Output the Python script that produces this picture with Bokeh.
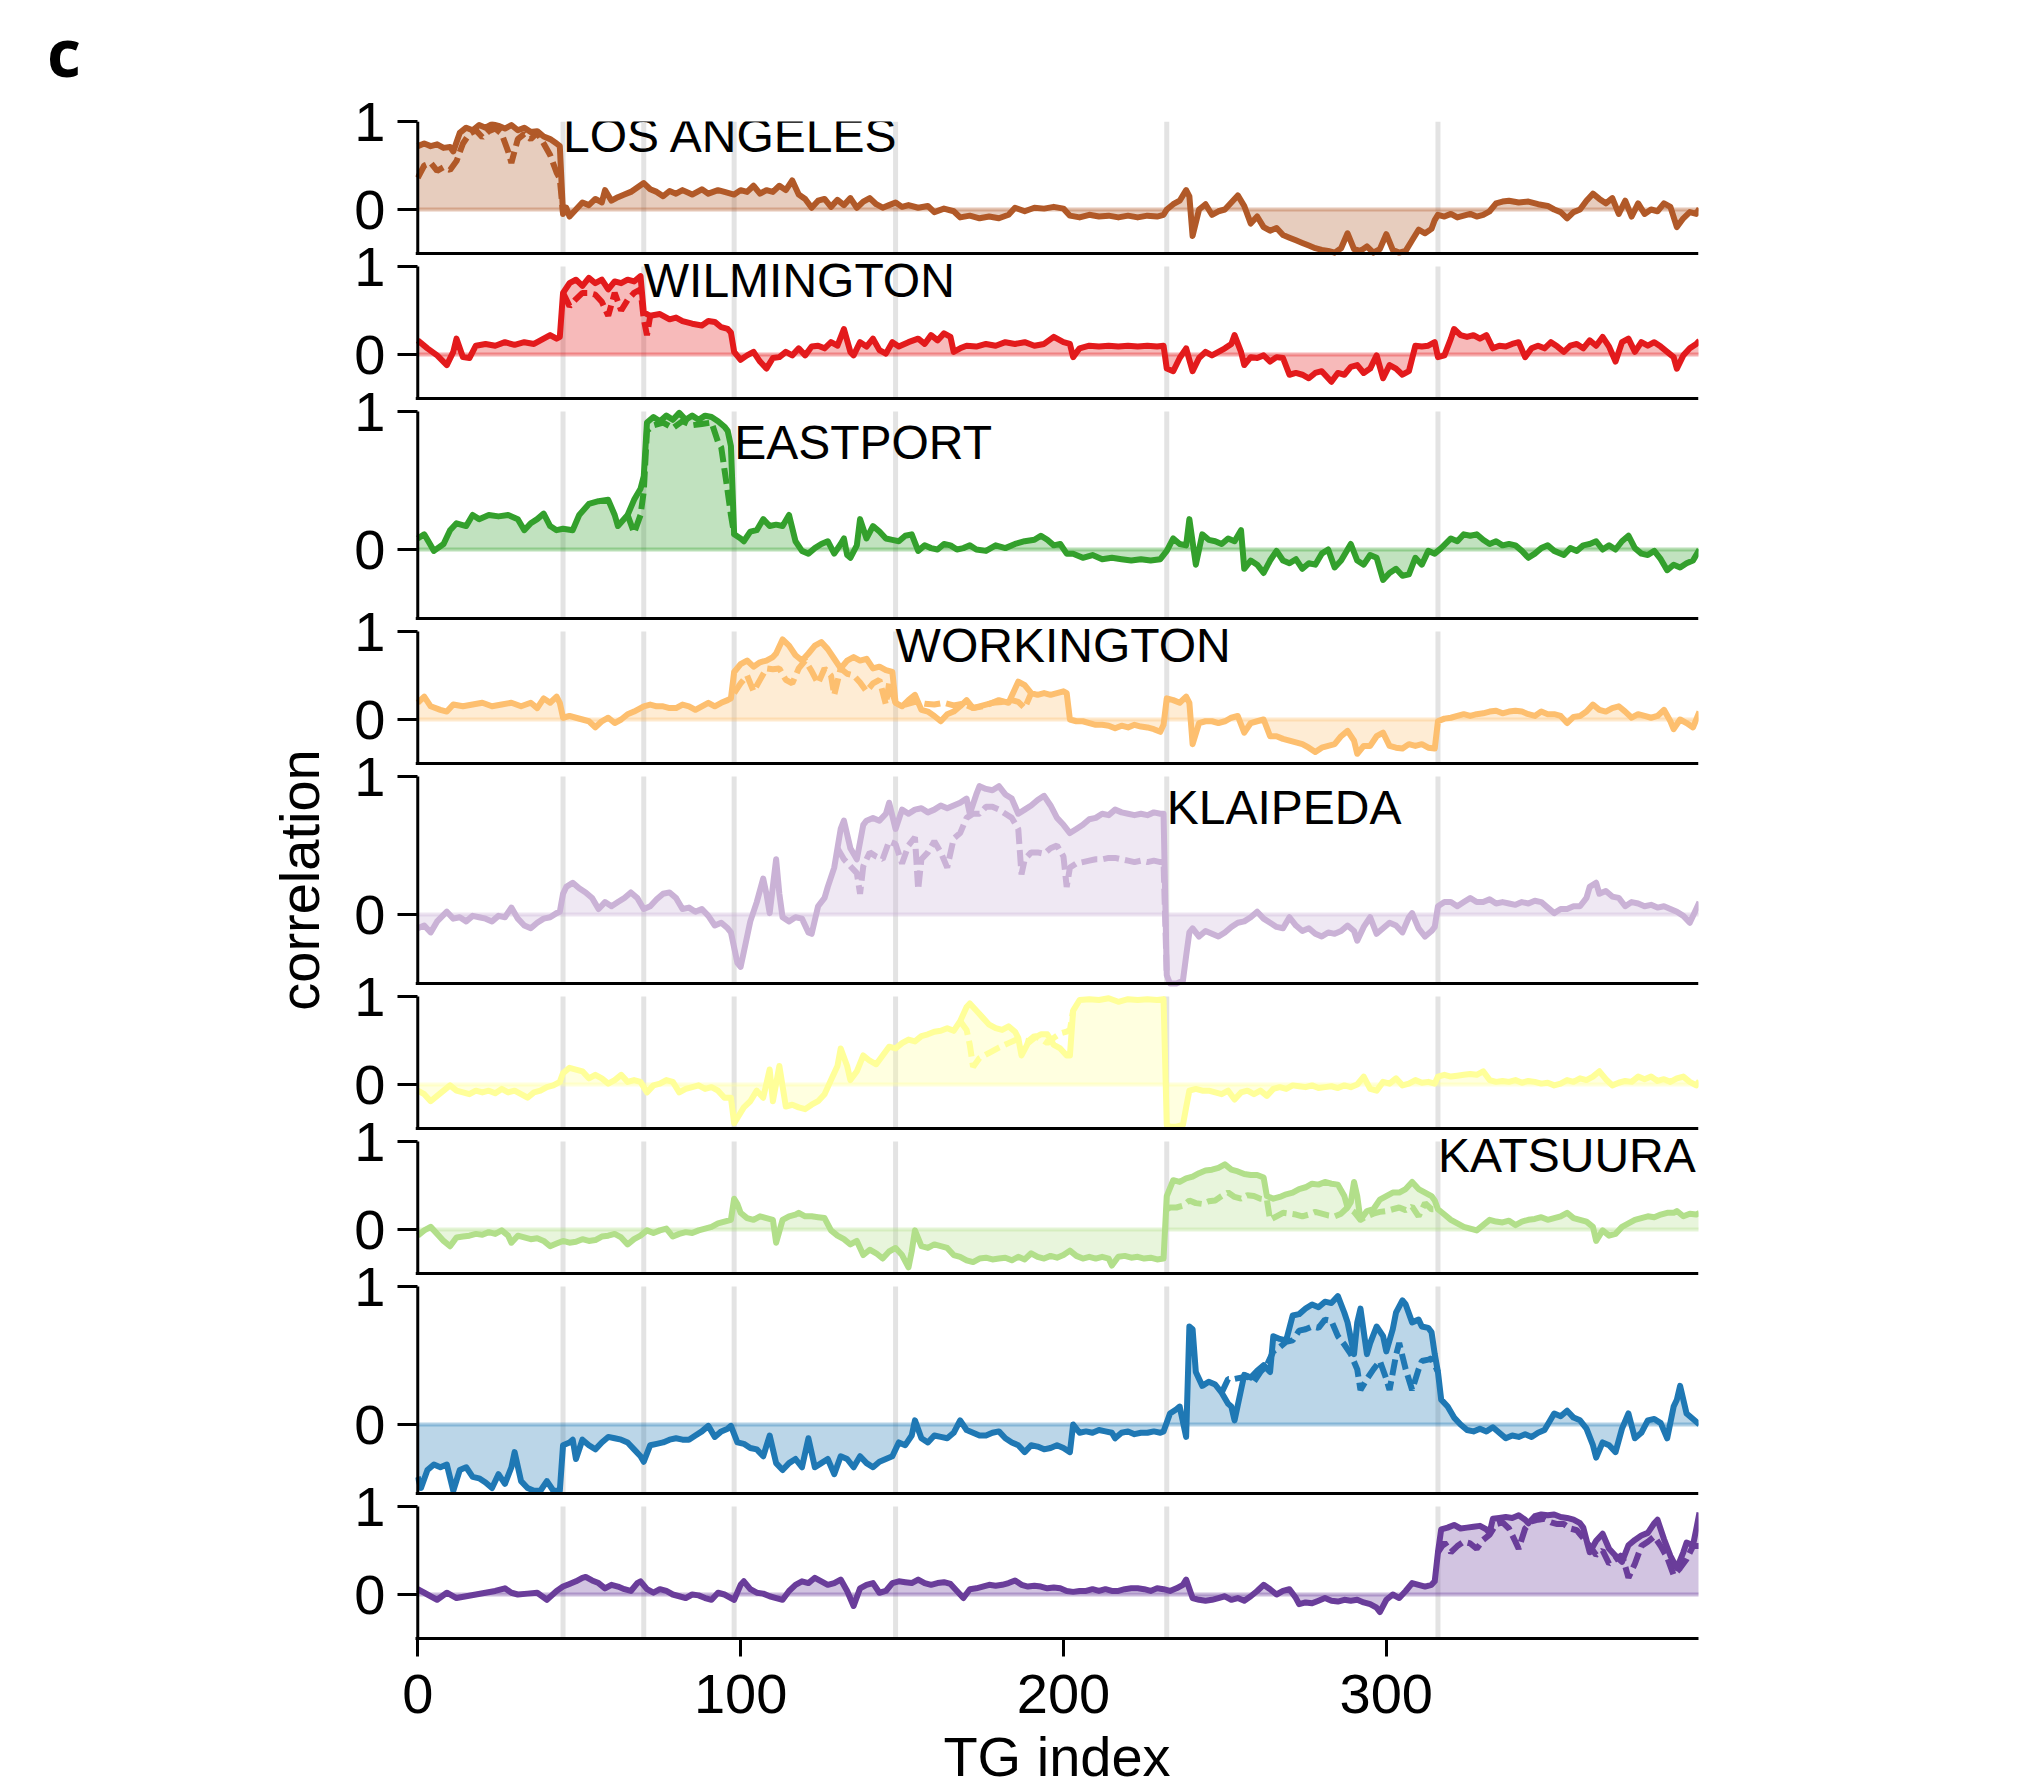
from bokeh.plotting import figure
from bokeh.layouts import column
from bokeh.models import Range1d, FixedTicker, Div
from bokeh.core.properties import value
from bokeh.embed import file_html
from bokeh.resources import INLINE

FONT = "Liberation Sans"

# ---------------- data ----------------
NAMES = ["LOS ANGELES", "WILMINGTON", "EASTPORT", "WORKINGTON", "KLAIPEDA", "", "KATSUURA", "", ""]
COLORS = ["#b15928", "#e31a1c", "#33a02c", "#fdbf6f", "#cab2d6", "#ffff99", "#b2df8a", "#1f78b4", "#6a3d9a"]
BOUNDARIES = [45, 70, 98, 148, 232, 316]
TITLE_REGION = [0, 1, 2, 3, 4, None, 5, None, None]
X_TICKS = [0, 100, 200, 300]
PANEL_LETTER = "c"

LA_SOLID = [(0,.72),(2,.75),(4,.72),(6,.74),(8,.70),(10,.71),(11,.66),(13,.87),(15,.93),(17,.90),
 (19,.96),(21,.93),(23,.97),(25,.95),(27,.92),(29,.96),(31,.90),(33,.93),(35,.88),(37,.89),
 (39,.83),(41,.80),(43,.75),(44,.72),(45,-.05),(46,.02),(47,-.08),(49,0),(51,.08),(53,.05),
 (55,.12),(57,.08),(58,.22),(60,.10),(62,.14),(64,.17),(66,.20),(68,.25),(70,.30),(72,.23),
 (74,.20),(76,.15),(78,.21),(80,.18),(82,.22),(85,.17),(88,.23),(90,.18),(93,.22),(95,.20),
 (98,.17),(100,.22),(102,.20),(104,.27),(106,.18),(108,.22),(110,.20),(112,.27),(114,.22),(116,.33),
 (118,.17),(120,.12),(122,.02),(124,.10),(126,.12),(128,.03),(130,.11),(132,.05),(134,.13),(136,.02),
 (138,.09),(140,.13),(142,.06),(144,.02),(146,.05),(148,.08),(150,.03),(152,.05),(155,.02),(158,.04),
 (160,-.03),(163,.01),(166,-.02),(168,-.09),(171,-.07),(174,-.10),(177,-.08),(180,-.10),(183,-.06),(185,.02),
 (188,-.02),(191,.02),(194,.01),(197,.03),(200,.01),(202,-.07),(205,-.09),(208,-.06),(211,-.08),(214,-.07),
 (217,-.09),(220,-.07),(223,-.09),(226,-.07),(229,-.08),(231,-.06),(232,0),(234,.06),(236,.10),(238,.22),
 (239,.15),(240,-.30),(242,0),(244,.06),(246,-.06),(248,-.02),(250,0),(252,.08),(254,.16),(256,.04),
 (258,-.16),(260,-.08),(262,-.20),(264,-.24),(266,-.21),(268,-.29),(270,-.32),(272,-.35),(274,-.38),(276,-.41),
 (278,-.44),(280,-.46),(282,-.47),(284,-.49),(286,-.44),(288,-.27),(290,-.45),(292,-.47),(294,-.42),(296,-.49),
 (298,-.45),(300,-.28),(302,-.46),(304,-.49),(306,-.47),(308,-.35),(310,-.23),(312,-.27),(314,-.22),(315,-.12),
 (316,-.06),(318,-.08),(320,-.05),(322,-.09),(324,-.07),(326,-.05),(328,-.08),(330,-.06),(332,-.02),(334,.07),
 (336,.09),(338,.10),(341,.08),(344,.09),(347,.06),(350,.04),(352,0),(354,-.03),(356,-.10),(358,-.03),
 (360,0),(362,.10),(364,.18),(366,.12),(368,.07),(370,.13),(372,-.05),(374,.10),(376,-.08),(378,.07),
 (380,-.05),(382,0),(384,-.02),(386,.07),(388,.03),(390,-.20),(392,-.10),(394,-.03),(396,-.05),(397,.01)]
LA_DASH = [(0,.36),(2,.50),(4,.53),(6,.44),(8,.48),(10,.45),(12,.55),(14,.75),(16,.86),(18,.90),(20,.82),
 (22,.89),(24,.92),(26,.86),(28,.66),(29,.53),(31,.80),(33,.86),(35,.80),(37,.87),(39,.75),(41,.62),
 (43,.42),(44,.35),(45,-.05)]

WI_SOLID = [(0,.16),(3,.07),(6,-.01),(9,-.12),(11,.03),(12,.18),(14,-.03),(16,-.04),(18,.10),(21,.12),
 (24,.10),(27,.14),(30,.11),(33,.14),(36,.12),(39,.18),(41,.22),(43,.18),(44,.20),(45,.70),
 (47,.81),(49,.85),(51,.78),(53,.87),(55,.81),(57,.85),(59,.74),(61,.83),(63,.81),(65,.85),
 (67,.83),(69,.89),(70,.48),(72,.44),(75,.46),(78,.40),(80,.42),(82,.38),(85,.35),(88,.33),
 (90,.38),(92,.37),(94,.31),(96,.29),(97,.25),(98,.03),(100,-.06),(102,-.01),(104,.03),(106,-.08),
 (108,-.16),(110,-.04),(112,-.03),(114,.03),(116,-.01),(118,.07),(120,-.01),(122,.09),(124,.10),(126,.07),
 (128,.14),(130,.10),(132,.29),(134,.03),(135,-.01),(137,.14),(139,.09),(141,.18),(143,.05),(145,.01),
 (147,.14),(149,.09),(152,.14),(155,.18),(157,.12),(159,.22),(161,.16),(163,.24),(165,.20),(166,.03),
 (168,.07),(170,.10),(173,.09),(176,.12),(179,.10),(182,.14),(185,.12),(188,.14),(191,.10),(194,.12),
 (197,.20),(200,.14),(202,.12),(203,-.03),(205,.07),(208,.10),(211,.09),(214,.10),(217,.09),(220,.10),
 (223,.09),(226,.10),(229,.09),(231,.10),(232,-.16),(234,-.19),(236,-.04),(238,.07),(240,-.19),(242,-.04),
 (244,.03),(246,-.01),(248,.03),(250,.07),(252,.12),(253,.22),(255,.03),(256,-.12),(258,-.03),(260,-.04),
 (262,-.01),(264,-.08),(266,-.03),(268,-.04),(270,-.23),(272,-.21),(274,-.23),(276,-.27),(278,-.21),(280,-.19),
 (282,-.27),(283,-.31),(285,-.21),(287,-.23),(289,-.14),(291,-.12),(293,-.21),(295,-.16),(297,-.01),(299,-.27),
 (301,-.12),(303,-.16),(305,-.23),(307,-.19),(309,.10),(311,.09),(313,.10),(315,.14),(316,-.03),(318,-.01),
 (320,.18),(321,.29),(323,.22),(325,.20),(327,.22),(329,.18),(331,.22),(333,.07),(335,.10),(337,.09),
 (339,.12),(341,.14),(343,-.03),(345,.07),(347,.10),(349,.07),(351,.14),(353,.09),(355,.03),(357,.10),
 (359,.12),(361,.07),(363,.16),(365,.10),(367,.20),(369,.09),(371,-.08),(373,.14),(375,.18),(377,.03),
 (379,.14),(381,.10),(383,.14),(385,.09),(387,.03),(389,-.03),(390,-.16),(392,-.01),(394,.07),(396,.12),(397,.16)]
WI_DASH = [(45,.70),(47,.55),(49,.63),(51,.70),(53,.70),(55,.68),(57,.60),(59,.44),(61,.70),(63,.50),
 (65,.62),(67,.70),(69,.74),(70,.40),(71,.22),(72,.44)]

EA_SOLID = [(0,.08),(2,.11),(4,.03),(5,-.01),(8,.04),(10,.14),(12,.19),(15,.17),(17,.25),(19,.22),
 (22,.25),(25,.24),(28,.25),(31,.22),(33,.14),(35,.19),(37,.22),(39,.26),(41,.17),(43,.14),
 (45,.15),(48,.14),(50,.25),(53,.33),(56,.35),(59,.36),(61,.25),(62,.17),(65,.25),(67,.36),
 (69,.44),(70,.53),(71,.92),(73,.96),(75,.93),(77,.97),(79,.94),(81,.99),(83,.94),(85,.97),
 (87,.94),(89,.97),(91,.96),(93,.93),(95,.89),(96,.86),(97,.75),(98,.11),(100,.08),(101,.06),
 (103,.13),(105,.14),(107,.22),(109,.17),(111,.18),(113,.17),(115,.25),(117,.06),(119,-.01),(121,-.03),
 (123,.01),(125,.04),(127,.06),(129,-.03),(131,.04),(132,.08),(133,-.04),(134,-.06),(136,.03),(137,.22),
 (139,.08),(141,.17),(143,.13),(145,.08),(147,.07),(149,.06),(151,.10),(153,.11),(155,-.01),(157,.03),
 (159,.01),(161,0),(163,.04),(165,.03),(167,0),(169,.01),(171,.03),(173,0),(176,-.01),(179,.03),
 (182,.01),(185,.04),(188,.06),(191,.07),(193,.10),(195,.07),(197,.03),(199,.04),(201,-.03),(203,-.03),
 (206,-.06),(209,-.04),(212,-.07),(215,-.06),(218,-.07),(221,-.08),(224,-.07),(227,-.08),(230,-.07),(232,-.01),
 (234,.08),(236,.04),(238,.03),(239,.22),(241,-.11),(243,.11),(245,.07),(247,.06),(249,.04),(251,.08),
 (253,.06),(255,.14),(256,-.14),(258,-.08),(260,-.11),(262,-.17),(264,-.08),(266,-.01),(268,-.08),(270,-.10),
 (272,-.07),(274,-.14),(276,-.10),(278,-.11),(280,-.03),(282,0),(284,-.13),(286,-.08),(289,.04),(291,-.08),
 (293,-.11),(295,-.04),(297,-.06),(299,-.22),(301,-.17),(303,-.14),(305,-.19),(307,-.18),(309,-.06),(311,-.11),
 (313,-.01),(315,-.03),(317,.01),(320,.08),(322,.06),(324,.11),(326,.10),(328,.11),(330,.07),(332,.04),
 (334,.06),(336,.03),(338,.04),(340,.03),(342,-.01),(344,-.06),(346,-.03),(348,.01),(350,.03),(352,-.01),
 (355,-.04),(357,.01),(359,-.01),(361,.03),(363,.04),(365,.06),(367,0),(369,.03),(371,0),(373,.06),
 (375,.10),(377,.01),(379,-.03),(381,-.04),(383,-.01),(385,-.07),(387,-.15),(389,-.11),(391,-.13),(393,-.10),
 (395,-.08),(397,0)]
EA_DASH = [(65,.25),(67,.12),(69,.25),(70,.42),(71,.86),(73,.90),(76,.92),(79,.88),(82,.93),(85,.90),
 (88,.91),(91,.92),(93,.78),(94,.74),(95,.58),(96,.42),(97,.25),(98,.11)]

WO_SOLID = [(0,.19),(2,.26),(4,.15),(7,.11),(9,.09),(11,.17),(14,.15),(17,.17),(20,.19),(23,.15),
 (26,.17),(29,.19),(32,.15),(35,.19),(37,.13),(39,.24),(41,.19),(43,.26),(44,.19),(45,.02),
 (47,.04),(49,.02),(51,0),(53,-.02),(55,-.09),(57,-.02),(59,.02),(61,-.04),(63,0),(65,.06),
 (67,.09),(69,.13),(70,.15),(72,.17),(74,.15),(76,.15),(78,.13),(80,.13),(82,.17),(84,.15),
 (86,.11),(88,.15),(90,.19),(92,.15),(94,.19),(96,.22),(97,.24),(98,.54),(100,.63),(102,.67),
 (104,.60),(106,.65),(108,.67),(110,.71),(111,.75),(113,.91),(115,.84),(117,.73),(119,.67),(121,.75),
 (123,.84),(125,.88),(127,.80),(129,.69),(131,.58),(133,.67),(135,.71),(137,.67),(139,.69),(141,.58),
 (143,.60),(145,.56),(147,.54),(148,.19),(150,.15),(152,.22),(154,.28),(156,.11),(158,.09),(160,.04),
 (162,-.02),(164,.06),(166,.09),(168,.15),(170,.22),(172,.13),(174,.15),(176,.17),(178,.19),(180,.22),
 (183,.19),(186,.43),(188,.39),(190,.30),(192,.28),(194,.30),(196,.28),(198,.30),(200,.32),(201,.30),
 (202,0),(204,-.02),(206,-.02),(208,-.04),(210,-.06),(212,-.06),(214,-.07),(216,-.10),(218,-.07),(220,-.09),
 (222,-.06),(224,-.08),(226,-.09),(228,-.11),(230,-.14),(231,-.06),(232,.24),(234,.22),(236,.19),(238,.26),
 (239,.19),(240,-.28),(242,-.04),(244,-.02),(246,-.02),(248,-.04),(250,-.02),(252,.02),(254,.04),(256,-.15),
 (258,-.04),(260,-.02),(262,0),(264,-.19),(266,-.19),(268,-.22),(270,-.24),(272,-.26),(274,-.28),(276,-.32),
 (278,-.37),(280,-.32),(282,-.30),(284,-.28),(286,-.19),(288,-.13),(290,-.24),(291,-.39),(293,-.30),(295,-.30),
 (297,-.19),(299,-.15),(301,-.30),(303,-.32),(305,-.33),(307,-.28),(309,-.30),(311,-.28),(313,-.32),(315,-.33),
 (316,-.02),(318,.01),(320,.02),(322,.04),(324,.06),(326,.04),(328,.06),(330,.07),(332,.09),(334,.10),
 (336,.07),(338,.09),(340,.10),(342,.09),(344,.06),(346,.04),(348,.09),(350,.06),(352,.06),(354,.04),
 (356,-.04),(358,.03),(360,.04),(362,.09),(364,.17),(366,.11),(368,.09),(370,.13),(372,.15),(374,.09),
 (376,.02),(378,.06),(380,.04),(382,.02),(384,.04),(386,.11),(388,-.02),(389,-.11),(391,0),(393,-.04),
 (395,-.09),(397,.09)]
WO_DASH = [(98,.30),(100,.41),(102,.50),(104,.32),(106,.45),(108,.58),(110,.57),(112,.58),(114,.45),(116,.41),
 (118,.58),(120,.67),(122,.55),(124,.41),(126,.58),(128,.50),(129,.28),(131,.58),(133,.52),(135,.50),
 (137,.42),(139,.32),(141,.41),(143,.45),(145,.17),(146,.41),(148,.19),(151,.17),(154,.20),(157,.18),
 (160,.17),(163,.19),(166,.16),(169,.18),(172,.13),(175,.15),(178,.19),(181,.20),(184,.22),(186,.20),
 (188,.13),(190,.30)]

KL_SOLID = [(0,-.10),(2,-.08),(4,-.13),(6,-.05),(9,.02),(11,-.03),(13,-.02),(15,-.05),(17,-.01),(19,-.02),
 (21,-.03),(23,-.05),(25,-.01),(27,-.02),(29,.05),(31,-.03),(33,-.08),(35,-.10),(37,-.06),(39,-.03),
 (41,-.02),(43,.01),(44,.02),(45,.15),(46,.20),(48,.23),(50,.19),(52,.16),(54,.12),(56,.04),
 (58,.09),(60,.06),(62,.09),(64,.12),(66,.16),(68,.12),(70,.04),(72,.06),(74,.11),(76,.15),
 (78,.16),(80,.12),(82,.04),(84,.05),(86,.02),(88,.04),(90,-.01),(92,-.08),(94,-.06),(96,-.10),
 (97,-.13),(98,-.24),(99,-.35),(100,-.38),(101,-.27),(103,-.05),(105,.09),(107,.26),(108,.15),(109,.01),
 (111,.40),(112,.15),(113,-.02),(115,-.05),(117,-.02),(119,-.03),(121,-.13),(122,-.14),(124,.06),(126,.12),
 (127,.20),(129,.34),(130,.48),(131,.62),(132,.68),(134,.48),(136,.40),(138,.65),(139,.68),(141,.70),
 (143,.68),(145,.73),(146,.81),(148,.62),(150,.76),(152,.73),(154,.76),(156,.77),(158,.74),(160,.76),
 (162,.79),(164,.77),(166,.79),(168,.81),(170,.84),(171,.73),(173,.87),(174,.93),(176,.91),(178,.90),
 (180,.93),(182,.87),(184,.84),(186,.73),(188,.76),(190,.79),(192,.83),(194,.86),(196,.79),(198,.70),
 (200,.65),(202,.59),(204,.62),(206,.65),(208,.69),(210,.70),(212,.73),(214,.72),(216,.76),(218,.74),
 (220,.73),(222,.72),(224,.73),(226,.72),(228,.74),(230,.73),(231,.73),(232,-.44),(233,-.50),(235,-.50),
 (237,-.48),(238,-.30),(239,-.13),(240,-.10),(242,-.16),(244,-.12),(246,-.14),(248,-.16),(250,-.13),(252,-.09),
 (254,-.06),(256,-.05),(258,-.02),(260,.02),(262,-.03),(264,-.06),(266,-.09),(268,-.10),(270,-.02),(272,-.08),
 (274,-.12),(276,-.10),(278,-.14),(280,-.16),(282,-.13),(284,-.14),(286,-.12),(288,-.08),(290,-.12),(291,-.19),
 (293,-.09),(295,-.02),(297,-.14),(299,-.10),(301,-.06),(303,-.08),(305,-.13),(307,-.02),(308,.01),(310,-.10),
 (312,-.16),(314,-.12),(315,-.09),(316,.06),(318,.09),(320,.09),(322,.06),(324,.09),(326,.12),(328,.09),
 (330,.09),(332,.11),(334,.08),(336,.09),(338,.08),(340,.07),(342,.09),(344,.08),(346,.10),(348,.09),
 (350,.05),(352,.01),(354,.04),(356,.04),(358,.06),(360,.06),(362,.12),(363,.20),(365,.23),(366,.15),
 (368,.17),(370,.13),(372,.12),(374,.06),(376,.09),(378,.08),(380,.06),(382,.07),(384,.05),(386,.06),
 (388,.04),(390,.02),(392,-.01),(394,-.06),(396,.04),(397,.09)]
KL_DASH = [(130,.48),(132,.40),(134,.35),(136,.30),(137,.15),(138,.35),(140,.45),(142,.42),(144,.40),(146,.53),
 (148,.51),(150,.37),(152,.50),(154,.56),(155,.18),(156,.40),(158,.45),(160,.53),(162,.45),(164,.34),
 (166,.55),(168,.59),(170,.70),(172,.73),(174,.73),(176,.78),(178,.78),(180,.76),(182,.73),(184,.70),
 (186,.62),(187,.29),(188,.40),(190,.45),(192,.45),(194,.44),(196,.48),(198,.50),(200,.42),(201,.20),
 (202,.34),(204,.37),(206,.38),(208,.39),(210,.40),(212,.40),(214,.41),(216,.41),(218,.40),(220,.39),
 (222,.38),(224,.39),(226,.38),(228,.39),(230,.38),(231,.38),(232,-.44)]

YE_SOLID = [(0,-.07),(2,-.11),(4,-.19),(6,-.13),(8,-.07),(10,-.01),(12,-.07),(14,-.09),(16,-.11),(18,-.07),
 (20,-.09),(22,-.07),(24,-.10),(26,-.05),(28,-.09),(30,-.07),(32,-.11),(34,-.15),(36,-.09),(38,-.07),
 (40,-.03),(42,-.01),(44,.03),(45,.13),(47,.19),(49,.17),(51,.15),(53,.07),(55,.11),(57,.07),
 (59,.01),(61,.05),(63,.11),(65,.03),(67,.05),(69,.03),(71,-.09),(73,-.01),(75,.01),(77,.05),
 (79,.03),(81,-.09),(83,-.05),(85,-.03),(87,-.01),(89,-.05),(91,-.03),(93,-.07),(95,-.15),(97,-.15),
 (98,-.44),(99,-.38),(101,-.26),(103,-.19),(105,-.07),(107,-.15),(109,.17),(110,-.19),(112,.21),(114,-.25),
 (116,-.23),(118,-.26),(120,-.28),(122,-.23),(124,-.19),(126,-.11),(128,.05),(130,.21),(131,.41),(133,.21),
 (134,.05),(136,.15),(138,.33),(140,.27),(142,.23),(144,.33),(146,.43),(148,.41),(150,.47),(152,.51),
 (154,.49),(156,.55),(158,.57),(160,.60),(162,.61),(164,.64),(166,.61),(168,.72),(170,.88),(171,.92),
 (173,.84),(175,.76),(177,.68),(179,.64),(181,.62),(183,.66),(185,.60),(186,.53),(187,.33),(189,.47),
 (191,.53),(193,.57),(195,.57),(197,.45),(199,.41),(201,.33),(202,.33),(203,.84),(205,.96),(208,.97),
 (211,.96),(214,.98),(217,.94),(220,.97),(223,.96),(226,.97),(229,.96),(231,.97),(232,-.46),(233,-.48),
 (235,-.48),(237,-.46),(238,-.26),(239,-.07),(241,-.05),(243,-.07),(245,-.07),(247,-.09),(249,-.11),(251,-.07),
 (253,-.17),(255,-.09),(257,-.07),(259,-.11),(261,-.07),(263,-.13),(265,-.05),(267,-.03),(269,-.05),(271,-.01),
 (273,-.02),(275,-.03),(277,-.01),(279,-.04),(281,-.03),(283,-.02),(285,-.04),(287,-.01),(289,-.03),(291,0),
 (293,.09),(295,-.05),(297,-.07),(299,.03),(301,.01),(303,.07),(305,-.01),(307,.01),(309,.05),(311,.02),
 (313,.03),(315,.01),(316,.09),(318,.11),(320,.09),(322,.10),(324,.11),(326,.12),(328,.11),(330,.15),
 (332,.05),(334,.03),(336,.04),(338,.03),(340,.05),(342,.02),(344,.04),(346,.03),(348,.01),(350,.02),
 (352,-.01),(354,.01),(356,.05),(358,.03),(360,.07),(362,.05),(364,.09),(366,.15),(368,.06),(370,-.01),
 (372,.02),(374,.04),(376,.03),(378,.09),(380,.06),(382,.09),(384,.04),(386,.06),(388,.03),(390,.07),
 (392,.09),(394,.03),(396,-.01),(397,.04)]
YE_DASH = [(168,.72),(170,.62),(171,.45),(172,.20),(174,.30),(177,.36),(180,.42),(183,.47),(186,.52),(189,.49),
 (191,.55),(193,.52),(195,.47),(197,.53),(199,.58),(201,.60),(202,.62),(203,.84)]

KA_SOLID = [(0,-.07),(2,-.01),(4,.03),(6,-.05),(8,-.13),(10,-.19),(12,-.09),(14,-.08),(16,-.07),(18,-.05),
 (20,-.06),(22,-.03),(24,-.05),(26,-.01),(28,-.07),(29,-.15),(31,-.07),(33,-.09),(35,-.11),(37,-.10),
 (39,-.13),(41,-.19),(43,-.16),(45,-.13),(47,-.15),(49,-.14),(51,-.11),(53,-.13),(55,-.12),(57,-.08),
 (59,-.07),(61,-.05),(63,-.09),(65,-.17),(67,-.11),(69,-.07),(71,-.01),(73,-.04),(75,-.01),(77,.01),
 (79,-.08),(81,-.05),(83,-.03),(85,-.04),(87,-.01),(89,.01),(91,.03),(93,.07),(95,.09),(97,.11),
 (98,.35),(99,.29),(100,.19),(102,.13),(104,.11),(106,.15),(108,.13),(110,.11),(111,-.15),(113,.11),
 (115,.15),(117,.17),(118,.19),(120,.15),(122,.15),(124,.14),(126,.13),(128,-.01),(130,-.07),(132,-.11),
 (134,-.17),(136,-.13),(138,-.29),(140,-.23),(142,-.27),(144,-.33),(146,-.25),(148,-.21),(150,-.29),(152,-.43),
 (153,-.25),(154,-.01),(156,-.19),(158,-.21),(160,-.17),(162,-.19),(164,-.21),(166,-.29),(168,-.31),(170,-.35),
 (172,-.37),(174,-.33),(176,-.32),(178,-.34),(180,-.33),(182,-.32),(184,-.35),(186,-.31),(188,-.34),(190,-.27),
 (192,-.31),(194,-.33),(196,-.30),(198,-.32),(200,-.29),(202,-.24),(204,-.30),(206,-.33),(208,-.31),(210,-.33),
 (212,-.31),(214,-.33),(215,-.41),(217,-.31),(219,-.30),(221,-.32),(223,-.31),(225,-.33),(227,-.32),(229,-.34),
 (231,-.33),(232,.38),(234,.56),(236,.54),(238,.58),(240,.60),(242,.64),(244,.67),(246,.68),(248,.70),
 (250,.74),(252,.68),(254,.66),(256,.63),(258,.62),(260,.62),(262,.59),(263,.38),(265,.35),(267,.37),
 (269,.40),(271,.42),(273,.46),(275,.48),(277,.52),(279,.51),(281,.54),(283,.52),(285,.51),(287,.38),
 (288,.25),(289,.31),(290,.54),(291,.38),(292,.11),(294,.21),(296,.23),(298,.34),(300,.38),(302,.42),
 (304,.42),(306,.46),(308,.54),(310,.46),(312,.42),(314,.38),(315,.33),(316,.23),(318,.17),(320,.11),
 (322,.07),(324,.03),(326,.01),(328,-.01),(330,.05),(332,.11),(334,.09),(336,.08),(338,.10),(340,.05),
 (342,.09),(344,.11),(346,.12),(348,.14),(350,.11),(352,.13),(354,.15),(356,.19),(358,.13),(360,.11),
 (362,.09),(364,.03),(365,-.13),(367,-.01),(369,-.07),(371,-.05),(373,.03),(375,.07),(377,.11),(379,.13),
 (381,.15),(383,.14),(385,.17),(387,.19),(389,.19),(390,.21),(392,.15),(394,.18),(396,.17),(397,.19)]
KA_DASH = [(232,.23),(233,.25),(235,.25),(237,.27),(239,.33),(241,.30),(243,.29),(245,.32),(247,.33),(249,.38),
 (251,.42),(253,.37),(255,.35),(257,.39),(259,.38),(261,.35),(263,.34),(264,.11),(266,.15),(268,.19),
 (270,.18),(272,.17),(274,.15),(276,.17),(278,.20),(280,.18),(282,.16),(284,.15),(286,.18),(288,.25),
 (290,.20),(292,.11),(294,.15),(296,.18),(298,.20),(300,.21),(302,.23),(304,.25),(306,.22),(308,.26),
 (310,.15),(312,.30),(314,.23),(316,.23)]

BL_SOLID = [(0,-.38),(1,-.46),(3,-.33),(5,-.29),(7,-.31),(9,-.29),(11,-.48),(13,-.33),(15,-.31),(17,-.38),
 (19,-.39),(21,-.42),(23,-.46),(25,-.36),(27,-.43),(29,-.31),(30,-.20),(32,-.41),(34,-.46),(36,-.48),
 (38,-.48),(40,-.41),(42,-.48),(44,-.48),(45,-.15),(47,-.13),(48,-.11),(49,-.25),(51,-.11),(53,-.15),
 (55,-.18),(57,-.13),(59,-.09),(61,-.10),(63,-.11),(65,-.13),(67,-.18),(69,-.23),(70,-.27),(72,-.15),
 (74,-.14),(76,-.13),(78,-.11),(80,-.10),(82,-.11),(84,-.11),(86,-.08),(88,-.05),(90,-.01),(92,-.09),
 (94,-.05),(96,-.03),(97,-.01),(99,-.13),(101,-.14),(103,-.17),(105,-.18),(107,-.23),(109,-.08),(111,-.28),
 (113,-.33),(115,-.28),(117,-.25),(119,-.31),(121,-.10),(123,-.31),(125,-.28),(127,-.25),(129,-.36),(131,-.23),
 (133,-.25),(135,-.31),(137,-.23),(139,-.28),(141,-.31),(143,-.27),(145,-.25),(147,-.23),(149,-.13),(151,-.15),
 (153,-.08),(154,.03),(156,-.10),(158,-.13),(160,-.08),(162,-.09),(164,-.10),(166,-.06),(168,.03),(170,-.04),
 (172,-.06),(174,-.08),(176,-.08),(178,-.06),(180,-.05),(182,-.10),(184,-.13),(186,-.15),(188,-.20),(190,-.15),
 (192,-.16),(194,-.18),(196,-.17),(198,-.15),(200,-.17),(202,-.20),(203,0),(205,-.06),(207,-.05),(209,-.06),
 (211,-.04),(213,-.05),(215,-.06),(216,-.10),(218,-.06),(220,-.05),(222,-.07),(224,-.06),(226,-.06),(228,-.05),
 (230,-.06),(231,-.05),(233,.08),(235,.11),(236,.13),(238,-.09),(239,.71),(240,.69),(241,.38),(243,.28),
 (245,.31),(247,.29),(249,.23),(251,.15),(252,.13),(253,.03),(255,.25),(256,.36),(258,.34),(260,.39),
 (262,.43),(264,.38),(265,.64),(267,.62),(269,.61),(271,.79),(273,.80),(275,.84),(277,.87),(279,.85),
 (281,.89),(283,.88),(285,.93),(287,.81),(288,.74),(290,.51),(291,.74),(292,.84),(294,.51),(295,.59),
 (297,.71),(299,.64),(300,.53),(302,.69),(303,.81),(305,.90),(306,.87),(308,.74),(310,.76),(311,.71),
 (313,.70),(314,.67),(315,.51),(316,.38),(317,.18),(319,.13),(321,.05),(323,0),(325,-.04),(327,-.05),
 (329,-.03),(331,-.05),(333,-.02),(335,-.06),(337,-.10),(339,-.08),(341,-.09),(343,-.07),(345,-.09),(347,-.06),
 (349,-.04),(351,.04),(352,.08),(354,.06),(356,.10),(358,.05),(360,.03),(362,-.03),(364,-.15),(365,-.24),
 (367,-.13),(369,-.15),(371,-.20),(373,-.03),(375,.08),(377,-.10),(379,-.06),(381,.03),(383,.04),(385,.01),
 (387,-.10),(389,.13),(390,.18),(391,.28),(393,.08),(395,.04),(397,0)]
BL_DASH = [(249,.23),(251,.33),(253,.33),(255,.34),(257,.35),(259,.31),(261,.38),(263,.43),(265,.53),(267,.56),
 (269,.60),(271,.61),(273,.68),(275,.69),(277,.71),(279,.70),(281,.76),(283,.75),(285,.64),(287,.58),
 (289,.51),(291,.40),(292,.25),(294,.33),(296,.40),(298,.46),(300,.33),(301,.25),(303,.50),(304,.59),
 (306,.40),(308,.25),(310,.40),(311,.46),(313,.47),(314,.48),(316,.38)]

PU_SOLID = [(0,.06),(3,0),(6,-.06),(9,.02),(12,-.04),(15,-.02),(18,0),(21,.02),(24,.04),(27,.07),
 (29,.02),(31,0),(34,.01),(37,.02),(40,-.06),(43,.04),(45,.09),(47,.12),(49,.15),(51,.19),
 (52,.20),(54,.16),(56,.13),(58,.07),(60,.11),(62,.09),(64,.06),(66,.04),(68,.13),(69,.15),
 (71,.06),(73,.02),(75,.06),(77,.04),(79,0),(81,-.02),(83,-.04),(85,0),(87,-.01),(89,-.04),
 (91,-.06),(93,.02),(95,0),(97,-.04),(98,-.06),(100,.11),(101,.15),(103,.06),(105,.02),(107,.01),
 (109,-.02),(111,-.04),(113,-.06),(115,.04),(117,.11),(119,.15),(121,.13),(123,.19),(125,.15),(127,.11),
 (129,.13),(131,.17),(133,.04),(135,-.13),(137,.07),(139,.11),(141,.13),(143,.02),(145,.04),(147,.13),
 (149,.15),(151,.14),(153,.13),(155,.17),(157,.13),(159,.11),(161,.13),(163,.14),(165,.12),(167,.04),
 (169,-.04),(171,.06),(173,.07),(175,.09),(177,.11),(179,.10),(181,.11),(183,.13),(185,.16),(187,.11),
 (189,.09),(191,.10),(193,.09),(195,.07),(197,.08),(199,.07),(201,.04),(203,.03),(205,.04),(207,.04),
 (209,.06),(211,.04),(213,.06),(215,.04),(217,.04),(219,.06),(221,.07),(223,.07),(225,.06),(227,.04),
 (229,.07),(231,.06),(233,.04),(235,.07),(237,.11),(238,.17),(240,-.04),(242,-.06),(244,-.07),(246,-.06),
 (248,-.04),(250,-.02),(252,-.06),(254,-.04),(256,-.07),(258,-.02),(260,.04),(262,.11),(264,.06),(266,0),
 (268,.04),(270,.06),(272,-.04),(273,-.11),(275,-.09),(277,-.10),(279,-.07),(281,-.04),(283,-.07),(285,-.08),
 (287,-.06),(289,-.07),(291,-.06),(293,-.09),(295,-.11),(297,-.15),(298,-.20),(300,-.06),(302,0),(304,-.04),
 (306,.04),(308,.13),(310,.11),(312,.09),(314,.11),(315,.15),(316,.48),(317,.74),(319,.76),(321,.79),
 (323,.75),(325,.76),(327,.77),(329,.78),(331,.74),(332,.70),(333,.86),(335,.87),(337,.88),(339,.87),
 (341,.90),(343,.85),(344,.81),(346,.89),(348,.91),(350,.90),(352,.91),(354,.88),(356,.87),(358,.85),
 (360,.81),(361,.76),(363,.48),(365,.61),(367,.69),(369,.52),(371,.44),(373,.37),(375,.56),(377,.62),
 (379,.67),(381,.70),(383,.81),(384,.85),(386,.63),(388,.44),(390,.30),(392,.48),(393,.59),(395,.56),
 (396,.74),(397,.93)]
PU_DASH = [(316,.48),(318,.59),(320,.48),(322,.55),(324,.60),(326,.58),(328,.52),(330,.62),(332,.68),(334,.80),
 (336,.82),(338,.75),(340,.60),(341,.52),(343,.75),(345,.83),(347,.85),(349,.86),(351,.82),(353,.80),
 (355,.80),(357,.75),(359,.73),(361,.64),(363,.55),(365,.45),(367,.50),(369,.35),(371,.40),(373,.45),
 (375,.19),(377,.35),(379,.55),(381,.60),(383,.66),(385,.55),(387,.42),(389,.22),(391,.30),(393,.40),
 (395,.55),(397,.55)]

SERIES = [(LA_SOLID, LA_DASH), (WI_SOLID, WI_DASH), (EA_SOLID, EA_DASH), (WO_SOLID, WO_DASH),
          (KL_SOLID, KL_DASH), (YE_SOLID, YE_DASH), (KA_SOLID, KA_DASH), (BL_SOLID, BL_DASH),
          (PU_SOLID, PU_DASH)]

# ---------------- layout / style ----------------
SIZES = ["s", "s", "l", "s", "l", "s", "s", "l", "s"]
UNIT_PX = {"s": 88, "l": 138}     # pixels per correlation unit
GAP_PX = 13
Y_LO, Y_HI = -0.5, 1.0
X_LO, X_HI = -0.7, 396.7
FRAME_W = 1283
LEFT_BORDER = 415
RIGHT_BORDER = 20
HEADER_H = 81
TOP_BORDER = 40
TOTAL_W = LEFT_BORDER + FRAME_W + RIGHT_BORDER

tops = []
t = 0
for s in SIZES:
    tops.append(t)
    t += int(UNIT_PX[s] * (Y_HI - Y_LO)) + GAP_PX
FRAME_H = t - GAP_PX

# header strip holding the panel letter
hdr = Div(text=("<div style=\"font-family:'Open Sans',sans-serif;font-weight:700;font-size:66px;"
                "line-height:66px;margin:0;padding:18px 0 0 47px;color:black;\">"
                + PANEL_LETTER + "</div>"),
          width=TOTAL_W, height=HEADER_H, margin=(0, 0, 0, 0))

p = figure(frame_width=FRAME_W, frame_height=FRAME_H, title=None,
           x_range=Range1d(X_LO, X_HI), y_range=Range1d(0, FRAME_H),
           min_border_left=LEFT_BORDER, min_border_right=RIGHT_BORDER,
           min_border_top=TOP_BORDER, min_border_bottom=10,
           output_backend="svg", toolbar_location=None)
p.outline_line_color = None
p.grid.visible = False
p.background_fill_color = "white"
p.border_fill_color = "white"

extra = {}
ticks = []
overrides = {}
for i, s in enumerate(SIZES):
    u = UNIT_PX[s]
    ti = tops[i]
    extra[f"p{i}"] = Range1d(Y_HI - (FRAME_H - ti) / u, Y_HI + ti / u)
    y_one = FRAME_H - ti
    y_zero = FRAME_H - ti - u
    ticks += [y_zero, y_one]
    overrides[y_one] = "1"
    overrides[y_zero] = "0"
p.extra_y_ranges = extra

ax = p.yaxis[0]
ax.ticker = FixedTicker(ticks=sorted(ticks))
ax.major_label_overrides = overrides
ax.axis_line_color = None
ax.major_tick_line_width = 3
ax.major_tick_line_color = "black"
ax.major_tick_out = 18
ax.major_tick_in = 2
ax.minor_tick_line_color = None
ax.major_label_text_font = FONT
ax.major_label_text_font_size = "56px"
ax.major_label_text_color = "black"
ax.major_label_standoff = 12
ax.axis_label = "correlation"
ax.axis_label_text_font = FONT
ax.axis_label_text_font_size = "56px"
ax.axis_label_text_font_style = "normal"
ax.axis_label_text_color = "black"
ax.axis_label_standoff = 20

bx = p.xaxis[0]
bx.ticker = FixedTicker(ticks=X_TICKS)
bx.axis_line_width = 3
bx.axis_line_color = "black"
bx.major_tick_line_width = 3
bx.major_tick_line_color = "black"
bx.major_tick_out = 18
bx.major_tick_in = 0
bx.minor_tick_line_color = None
bx.major_label_text_font = FONT
bx.major_label_text_font_size = "56px"
bx.major_label_text_color = "black"
bx.major_label_standoff = 18
bx.axis_label = "TG index"
bx.axis_label_text_font = FONT
bx.axis_label_text_font_size = "56px"
bx.axis_label_text_font_style = "normal"
bx.axis_label_text_color = "black"
bx.axis_label_standoff = 9

nb = len(BOUNDARIES)
for i, (solid, dash) in enumerate(SERIES):
    rn = f"p{i}"
    c = COLORS[i]
    xs = [a for a, b in solid]
    ys = [b for a, b in solid]
    dxs = [a for a, b in dash]
    dys = [b for a, b in dash]
    # region separators
    p.segment(x0=BOUNDARIES, x1=BOUNDARIES, y0=[Y_LO] * nb, y1=[Y_HI] * nb,
              line_color="#e3e3e3", line_width=5, y_range_name=rn)
    # fill between curve and zero
    p.varea(x=xs, y1=[0] * len(xs), y2=ys, fill_color=c, fill_alpha=0.3, y_range_name=rn)
    p.segment(x0=[xs[0]], x1=[xs[-1]], y0=[0], y1=[0], line_color=c, line_alpha=0.35,
              line_width=4, y_range_name=rn)
    p.line(dxs, dys, line_color=c, line_width=6, line_dash="16 6", y_range_name=rn)
    p.line(xs, ys, line_color=c, line_width=6, line_join="round", y_range_name=rn)
    # spines
    p.segment(x0=[0], x1=[0], y0=[Y_LO], y1=[Y_HI], line_color="black", line_width=3, y_range_name=rn)
    if i < len(SERIES) - 1:
        p.segment(x0=[X_LO], x1=[X_HI], y0=[Y_LO], y1=[Y_LO], line_color="black", line_width=3,
                  y_range_name=rn)
    if NAMES[i] and TITLE_REGION[i] is not None:
        p.text(x=[BOUNDARIES[TITLE_REGION[i]]], y=[0.65], text=[NAMES[i]], y_range_name=rn,
               text_font=value(FONT), text_font_size="48px", text_color="black",
               text_align="left", text_baseline="alphabetic", y_offset=-17)

layout = column(hdr, p, spacing=0)
open("out.html", "w").write(file_html(layout, INLINE))
